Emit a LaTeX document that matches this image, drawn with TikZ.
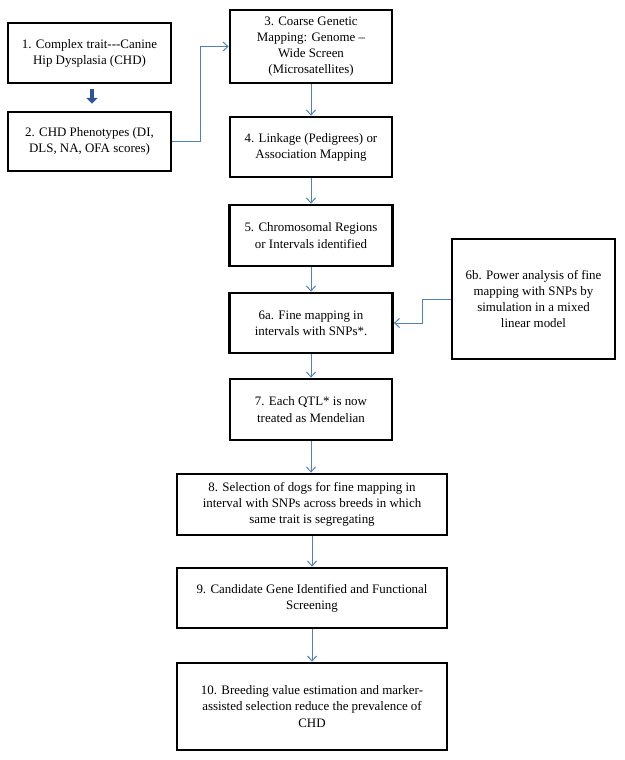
\documentclass[tikz,border=0pt]{standalone}
\usepackage{fontspec}
\setmainfont{Liberation Serif}
\usetikzlibrary{arrows.meta}
\definecolor{flowblue}{RGB}{79,129,189}
\definecolor{darkblue}{RGB}{47,85,151}
\begin{document}
\begin{tikzpicture}
      [x=0.025cm,y=-0.025cm,%%%%%%%%%%%%%%%%%%%%%%%%%%%%%%
      box/.style={rectangle,draw=black,line width=2pt,align=center,
        font=\fontsize{9.2}{11.5}\selectfont,inner sep=2pt},
      flow/.style={draw=flowblue,line width=0.7pt,-{Straight Barb[length=3.5pt,width=6.5pt]}},
      bigflow/.style={draw=darkblue,line width=2.8pt,-{Triangle[length=4pt,width=8pt]},
        shorten <=3.5pt,shorten >=5pt},
      ]%%%%%%%%%%%%%%%%%%%%%%%%%%%%%%
      \useasboundingbox (0,0) rectangle (624,760);

      \node[box,minimum width=163*0.025cm,minimum height=60*0.025cm] (b1) at (89.5,53)
        {1. Complex trait-{}-{}-Canine\\ Hip Dysplasia (CHD)};
      \node[box,minimum width=163*0.025cm,minimum height=59*0.025cm] (b2) at (89.5,141.5)
        {2. CHD Phenotypes (DI,\\ DLS, NA, OFA scores)};
      \node[box,minimum width=162*0.025cm,minimum height=73*0.025cm] (b3) at (311,46.5)
        {3. Coarse Genetic\\ Mapping: Genome --\\ Wide Screen\\ (Microsatellites)};
      \node[box,minimum width=162*0.025cm,minimum height=60*0.025cm] (b4) at (311,147)
        {4. Linkage (Pedigrees) or\\ Association Mapping};
      \node[box,minimum width=163*0.025cm,minimum height=61*0.025cm] (b5) at (311,235.5)
        {5. Chromosomal Regions\\ or Intervals identified};
      \node[box,minimum width=163*0.025cm,minimum height=60*0.025cm] (b6a) at (311,323)
        {6a. Fine mapping in\\ intervals with SNPs*.};
      \node[box,minimum width=163*0.025cm,minimum height=120*0.025cm] (b6b) at (533.5,299)
        {6b. Power analysis of fine\\ mapping with SNPs by\\ simulation in a mixed\\ linear model};
      \node[box,minimum width=162*0.025cm,minimum height=61*0.025cm] (b7) at (311,409.5)
        {7. Each QTL* is now\\ treated as Mendelian};
      \node[box,minimum width=270*0.025cm,minimum height=61*0.025cm] (b8) at (312,504.5)
        {8. Selection of dogs for fine mapping in\\ interval with SNPs across breeds in which\\ same trait is segregating};
      \node[box,minimum width=270*0.025cm,minimum height=60*0.025cm] (b9) at (312,598)
        {9. Candidate Gene Identified and Functional\\ Screening};
      \node[box,minimum width=270*0.025cm,minimum height=87*0.025cm] (b10) at (312,706.5)
        {10. Breeding value estimation and marker-\\ assisted selection reduce the prevalence of\\ CHD};

      % connectors
      \coordinate (j23) at (200,141.5);
      \coordinate (j6) at (422,299);
      \draw[bigflow] (b1.south -| 92,0) -- (b2.north -| 92,0);
      \draw[flow] (b2.east) -- (j23) |- (b3.west);
      \draw[flow] (b3) -- (b4);
      \draw[flow] (b4) -- (b5);
      \draw[flow] (b5) -- (b6a);
      \draw[flow] (b6b.west) -- (j6) |- (b6a.east);
      \draw[flow] (b6a) -- (b7);
      \draw[flow] (b7.south) -- (b7.south |- b8.north);
      \draw[flow] (b8) -- (b9);
      \draw[flow] (b9) -- (b10);
    \end{tikzpicture}
\end{document}
